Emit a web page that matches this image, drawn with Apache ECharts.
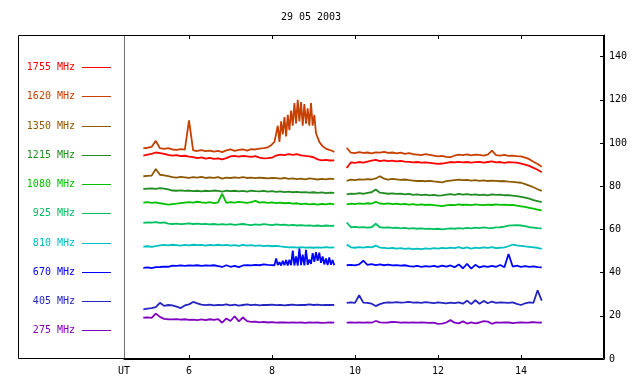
<!DOCTYPE html>
<html><head><meta charset="utf-8">
<script src="https://cdn.jsdelivr.net/npm/echarts@6/dist/echarts.min.js"></script>
<style>html,body{margin:0;padding:0;background:#fff}#c{width:640px;height:384px}</style>
</head><body><div id="c"></div>
<script>
// ---- time axes (hours UT) ----
const T1 = [4.9,5.0,5.1,5.2,5.3,5.4,5.5,5.6,5.7,5.8,5.9,6.0,6.1,6.2,6.3,6.4,6.5,6.6,6.7,6.8,6.9,7.0,7.1,7.2,7.3,7.4,7.5,7.6,7.7,7.8,7.9,8.0,8.1,8.2,8.3,8.4,8.5,8.6,8.7,8.8,8.9,9.0,9.1,9.2,9.3,9.4,9.5];
const T1A = [4.9,5.0,5.1,5.2,5.3,5.4,5.5,5.6,5.7,5.8,5.9,6.0,6.1,6.2,6.3,6.4,6.5,6.6,6.7,6.8,6.9,7.0,7.1,7.2,7.3,7.4,7.5,7.6,7.7,7.8];
const TF = [7.90,7.94,7.98,8.02,8.06,8.10,8.14,8.18,8.22,8.26,8.30,8.34,8.38,8.42,8.46,8.50,8.54,8.58,8.62,8.66,8.70,8.74,8.78,8.82,8.86,8.90,8.94,8.98,9.02,9.06,9.10,9.14,9.18,9.22,9.26,9.30,9.34,9.38,9.42,9.46,9.50];
const T2 = [9.8,9.9,10.0,10.1,10.2,10.3,10.4,10.5,10.6,10.7,10.8,10.9,11.0,11.1,11.2,11.3,11.4,11.5,11.6,11.7,11.8,11.9,12.0,12.1,12.2,12.3,12.4,12.5,12.6,12.7,12.8,12.9,13.0,13.1,13.2,13.3,13.4,13.5,13.6,13.7,13.8,13.9,14.0,14.1,14.2,14.3,14.4,14.5];

// ---- series values ----
const S1755_A = [94.2,94.6,95.0,95.6,95.3,95.0,94.5,94.2,94.4,93.9,94.1,93.7,93.5,93.0,93.3,92.8,93.1,92.6,92.9,92.4,93.0,93.8,94.0,93.7,94.0,93.8,93.6,93.9,93.2,92.9,93.0,93.2,94.2,94.6,94.4,94.8,94.5,94.9,94.3,94.0,93.8,93.4,92.4,92.0,92.2,91.9,92.0];
const S1755_B = [88.4,91.0,90.8,91.2,90.9,91.4,91.8,92.2,91.6,92.0,91.6,91.8,91.5,91.7,91.4,91.3,91.0,91.2,90.9,91.0,90.8,90.6,90.3,90.5,90.8,91.2,91.0,91.3,91.0,91.2,90.9,91.1,91.3,90.9,91.2,91.5,91.0,91.2,90.8,91.1,91.0,90.9,90.5,90.0,89.4,88.5,87.6,86.5];

const S1620_A = [97.5,97.8,98.2,101.0,97.6,97.3,97.6,97.0,96.8,97.2,96.9,110.5,96.6,96.3,96.7,96.2,96.5,96.0,96.4,95.8,96.6,97.0,96.4,96.8,97.0,96.5,97.2,97.0,97.4,97.6];
const S1620_F = [98.0,98.5,99.0,99.5,100.5,101,108,100.5,110,104,112,103,113,106,115,108,118.5,109,120,110,119,108,118,109,116,108,118.5,108,113,104.5,104,100.5,99.5,98.5,98,97.4,97,96.8,96.5,96.3,95.8];
const S1620_B = [97.8,95.5,95.3,95.8,95.4,95.6,95.2,95.7,95.5,95.9,95.4,95.6,95.2,95.5,95.0,95.3,94.8,94.6,94.4,94.8,94.5,94.2,93.8,94.0,93.6,93.4,94.2,94.6,94.4,94.7,94.3,94.6,94.5,94.2,94.6,96.5,94.4,94.2,94.5,94.0,94.2,93.9,93.8,93.2,92.5,91.3,90.3,89.0];

const S1350_A = [84.6,84.8,84.9,88.0,85.3,85.0,84.7,84.2,84.0,84.3,84.1,83.9,84.2,84.0,84.3,83.8,84.1,83.9,84.2,83.5,84.0,83.8,84.1,83.9,84.2,83.8,84.0,83.7,84.0,83.8,83.6,83.9,83.7,83.5,83.8,83.4,83.6,83.3,83.5,83.2,83.6,83.4,83.1,83.4,83.2,83.5,83.3];
const S1350_B = [82.5,83.0,82.8,83.2,83.0,83.3,83.1,83.6,84.6,83.5,83.0,83.4,83.2,82.9,83.1,82.8,82.6,82.4,82.5,82.3,82.5,82.2,82.0,81.8,82.3,82.6,82.8,83.0,82.8,82.9,82.6,82.8,82.5,82.7,82.4,82.6,82.5,82.3,82.4,82.1,82.0,81.8,81.6,81.0,80.3,79.5,78.6,77.8];

const S1215_A = [78.6,78.9,79.0,78.8,79.1,78.9,78.5,78.0,77.9,78.1,77.8,78.0,77.7,77.9,77.6,77.9,77.7,78.0,77.8,77.5,77.9,77.7,77.9,77.6,77.8,77.5,77.9,77.7,77.6,77.8,77.5,77.7,77.4,77.6,77.3,77.5,77.2,77.4,77.1,77.3,77.0,77.2,76.9,77.1,76.8,77.0,76.9];
const S1215_B = [76.2,76.6,76.4,76.8,76.5,76.9,77.2,78.5,77.0,76.8,76.5,76.7,76.4,76.6,76.2,76.4,76.0,76.2,75.9,76.1,75.8,76.0,75.6,75.8,76.1,76.3,76.0,76.4,76.1,76.3,76.0,76.2,75.9,76.1,75.8,76.2,76.0,76.1,75.8,75.9,75.6,75.4,75.1,74.7,74.2,73.6,73.1,72.6];

const S1080_A = [72.4,72.6,72.3,72.5,72.1,71.8,71.5,71.7,71.9,72.2,72.4,72.6,72.4,72.8,72.5,72.3,72.6,72.2,72.5,76.5,72.3,72.6,72.4,72.7,72.5,72.3,72.6,73.2,72.4,72.6,72.3,72.5,72.2,72.4,72.1,72.3,71.9,72.1,71.7,71.9,71.6,71.8,71.5,71.8,71.6,71.9,71.6];
const S1080_B = [71.6,71.9,71.7,72.0,71.8,72.1,71.9,72.8,72.0,71.8,72.0,71.7,71.9,71.6,71.8,71.5,71.7,71.4,71.6,71.3,71.5,71.2,71.0,70.8,71.1,71.4,71.2,71.6,71.3,71.5,71.2,71.6,71.4,71.2,71.5,71.3,71.6,71.4,71.5,71.2,71.4,71.0,70.7,70.4,70.0,69.6,69.2,68.8];

const S925_A = [63.0,63.3,63.1,63.4,63.0,63.2,62.7,62.5,62.7,62.4,62.6,62.8,62.5,62.7,62.4,62.6,62.3,62.5,62.2,62.4,62.2,62.4,62.1,62.3,62.5,62.2,62.0,62.3,62.1,62.4,62.2,62.0,62.3,62.1,62.2,61.9,62.1,61.8,62.0,61.7,61.9,61.6,61.8,61.5,61.8,61.6,61.7];
const S925_B = [63.2,61.0,61.2,60.9,61.1,60.8,61.0,62.6,61.0,60.8,60.9,60.7,60.8,60.5,60.7,60.4,60.6,60.3,60.5,60.2,60.4,60.1,60.3,60.0,60.2,60.5,60.3,60.6,60.4,60.7,60.5,60.8,60.6,60.9,60.7,60.6,60.9,61.0,61.3,61.7,61.9,62.0,61.8,61.5,61.0,60.8,60.6,60.5];

const S810_A = [52.0,52.2,51.9,52.3,52.6,52.8,52.6,52.9,52.7,52.5,52.8,52.6,52.9,52.7,52.8,52.5,52.8,52.6,52.9,52.6,52.8,52.5,52.7,52.4,52.8,52.5,52.7,52.4,52.6,52.3,52.5,52.2,52.4,52.1,51.9,51.7,51.8,51.6,51.8,51.6,51.7,51.5,51.7,51.6,51.8,51.6,51.7];
const S810_B = [53.0,51.7,51.5,51.8,51.6,51.9,51.7,52.5,51.6,51.4,51.2,51.4,51.1,51.3,51.0,51.2,50.9,51.1,50.9,51.2,51.0,51.3,51.1,51.4,51.2,51.6,51.3,51.8,51.2,51.7,51.1,51.6,51.3,51.7,51.4,51.8,51.3,51.5,51.7,52.2,53.0,52.6,52.4,52.1,51.9,51.7,51.5,51.0];

const S670_A = [42.2,42.4,42.1,42.5,42.6,42.8,42.7,43.2,43.1,43.3,43.1,43.3,43.2,43.4,43.1,43.3,43.2,43.4,43.0,42.6,43.4,42.7,43.1,42.5,43.3,43.5,43.3,43.6,43.4,43.8];
const S670_F = [43.6,44.0,43.5,44.2,43.4,46.6,43.5,44.8,43.3,45.5,43.4,45.8,43.3,46.0,43.4,50.2,43.3,47.5,43.2,51.2,43.5,48.3,43.3,50.5,43.6,46.0,44.0,49.0,45.0,49.5,45.5,49.2,44.5,47.5,43.8,46.5,43.5,47.0,43.6,45.8,43.4];
const S670_B = [43.4,43.6,43.3,43.8,45.5,43.6,43.9,43.5,43.8,43.4,43.7,43.3,43.5,43.2,43.4,43.0,42.8,43.1,42.7,43.0,42.8,43.1,42.6,43.2,42.8,43.3,42.5,43.8,42.0,44.0,41.8,43.6,42.4,43.0,42.6,43.1,42.7,43.5,42.5,48.6,42.8,43.2,42.7,43.0,42.6,42.9,42.5,42.4];

const S405_A = [23.0,23.3,23.6,24.0,26.0,24.6,25.0,24.8,24.2,23.6,24.8,25.3,26.4,25.8,25.2,24.9,25.2,24.8,25.1,24.9,25.3,24.8,25.2,24.7,25.0,25.3,24.9,25.2,24.8,25.1,25.0,25.2,24.9,25.1,24.8,25.0,25.2,24.9,25.1,25.0,25.3,25.0,25.2,24.9,25.1,25.0,25.1];
const S405_B = [26.0,26.2,26.0,29.5,26.1,26.0,25.6,24.5,25.4,26.0,26.2,26.1,26.3,26.1,26.2,26.4,26.1,26.2,26.0,26.3,26.1,25.9,26.2,26.0,25.8,26.1,25.9,26.2,25.6,27.0,25.4,27.2,25.6,26.9,25.8,26.6,26.0,26.2,26.1,26.0,26.2,25.5,25.0,25.8,26.2,26.0,31.8,27.0];

const S275_A = [19.1,19.3,19.0,21.0,19.5,18.6,18.4,18.3,18.5,18.2,18.4,18.1,18.2,18.0,18.3,18.0,18.4,18.1,18.5,16.8,18.8,17.6,19.8,17.4,19.2,17.5,17.2,17.3,17.0,17.2,16.9,17.1,16.8,17.0,16.9,16.8,17.0,16.8,16.9,16.7,16.9,16.8,16.9,16.7,16.8,17.0,16.8];
const S275_B = [16.8,16.9,16.8,16.9,16.8,16.9,16.8,17.6,17.0,16.8,16.9,17.2,17.1,16.8,16.9,16.8,16.9,16.8,16.9,16.8,16.7,16.8,16.3,16.4,16.9,18.0,16.8,16.5,17.4,16.4,17.0,16.5,16.9,17.5,17.3,16.3,17.0,16.8,16.9,17.0,16.6,16.8,17.0,16.8,16.9,17.1,16.8,16.9];

// ---- labels / ticks ----
const LABELS = ['1755 MHz','1620 MHz','1350 MHz','1215 MHz','1080 MHz','925 MHz','810 MHz','670 MHz','405 MHz','275 MHz'];
const COLORS = ['#ff0000','#c84000','#8c5a00','#228b22','#00c000','#00c060','#00c0c0','#0000ff','#2424c0','#8000c0'];
const X_TICKS = [6,8,10,12,14];
const UT_POS = 4.434;
const Y_TICKS = [0,20,40,60,80,100,120,140];
const TITLE = '29 05 2003';

function pairs(ts, vs){ return ts.map((t,i)=>[t, vs[i]]); }

const SEG1 = [
  pairs(T1,S1755_A),
  pairs(T1A,S1620_A).concat(pairs(TF,S1620_F)),
  pairs(T1,S1350_A), pairs(T1,S1215_A), pairs(T1,S1080_A),
  pairs(T1,S925_A), pairs(T1,S810_A),
  pairs(T1A,S670_A).concat(pairs(TF,S670_F)),
  pairs(T1,S405_A), pairs(T1,S275_A)
];
const SEG2 = [S1755_B,S1620_B,S1350_B,S1215_B,S1080_B,S925_B,S810_B,S670_B,S405_B,S275_B].map(v=>pairs(T2,v));

const FONT = 'DejaVu Sans Mono';
const series = [];
for (let i = LABELS.length - 1; i >= 0; i--) {
  [SEG1[i], SEG2[i]].forEach(d => series.push({
    type:'line', name: LABELS[i], data: d, showSymbol:false, symbol:'none',
    lineStyle:{color: COLORS[i], width:1.8}, itemStyle:{color: COLORS[i]},
    silent:true, z: 3
  }));
}

const graphic = [
  {type:'rect', shape:{x:18.5, y:35.5, width:585, height:323}, style:{fill:'none', stroke:'#000', lineWidth:1}, z:10},
  {type:'line', shape:{x1:124.5, y1:36, x2:124.5, y2:358}, style:{stroke:'#707070', lineWidth:1}, z:10},
  {type:'text', x:311, y:17, style:{text:TITLE, font:'10px "'+FONT+'"', fill:'#000', textAlign:'center', textVerticalAlign:'middle'}, z:10}
];
LABELS.forEach((lab, i) => {
  const y = Math.round(67 + i*29.25) + 0.5;
  graphic.push({type:'text', x:75, y:y, style:{text:lab, font:'10px "'+FONT+'"', fill:COLORS[i], textAlign:'right', textVerticalAlign:'middle'}, z:10});
  graphic.push({type:'line', shape:{x1:82, y1:y, x2:111, y2:y}, style:{stroke:COLORS[i], lineWidth:1}, z:10});
});

const chart = echarts.init(document.getElementById('c'), null, {renderer:'canvas'});
chart.setOption({
  animation:false,
  backgroundColor:'#fff',
  grid:{left:124, right:36, top:35, bottom:25, containLabel:false},
  xAxis:[{
    type:'value', min:UT_POS, max:16, position:'bottom',
    axisLine:{show:true, lineStyle:{color:'#000', width:1}},
    axisTick:{show:true, inside:true, length:4, customValues:X_TICKS, lineStyle:{color:'#000'}},
    axisLabel:{show:true, customValues:[UT_POS].concat(X_TICKS), margin:7, fontFamily:FONT, fontSize:10, color:'#000',
      formatter: v => (Math.abs(v-UT_POS)<0.01 ? 'UT' : String(Math.round(v)))},
    splitLine:{show:false}
  },{
    type:'value', min:UT_POS, max:16, position:'top',
    axisLine:{show:true, lineStyle:{color:'#000', width:1}},
    axisTick:{show:true, inside:true, length:4, customValues:X_TICKS, lineStyle:{color:'#000'}},
    axisLabel:{show:false}, splitLine:{show:false}
  }],
  yAxis:{
    type:'value', min:0, max:150, position:'right',
    axisLine:{show:true, lineStyle:{color:'#000', width:1}},
    axisTick:{show:true, inside:true, length:4, customValues:Y_TICKS, lineStyle:{color:'#000'}},
    axisLabel:{show:true, customValues:Y_TICKS, margin:5, fontFamily:FONT, fontSize:10, color:'#000'},
    splitLine:{show:false}
  },
  graphic: graphic,
  series: series
});
</script></body></html>
